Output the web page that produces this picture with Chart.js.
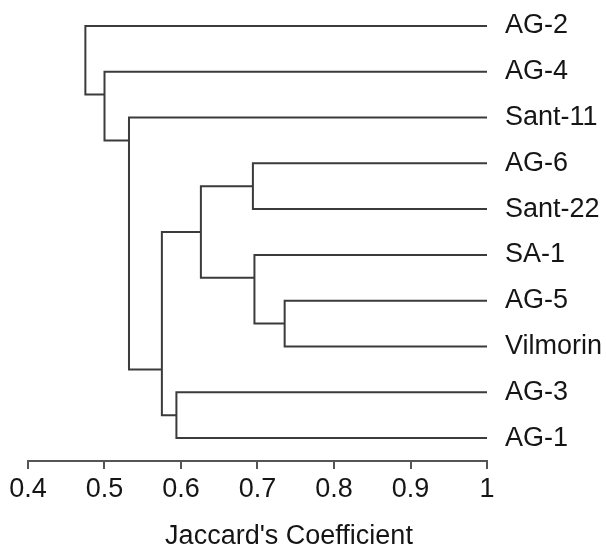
<!DOCTYPE html>
<html>
<head>
<meta charset="utf-8">
<script src="https://cdn.jsdelivr.net/npm/chart.js@4"></script>
<style>
  html, body { margin: 0; padding: 0; background: #fff; }
</style>
</head>
<body>
<canvas id="dendro" width="606" height="554"></canvas>
<script>
// Leaves, top to bottom
var leaves = ['AG-2', 'AG-4', 'Sant-11', 'AG-6', 'Sant-22', 'SA-1', 'AG-5', 'Vilmorin', 'AG-3', 'AG-1'];

// Merges (hclust style): negative = leaf number, positive = earlier merge
var mergeLeft   = [-4, -7, -6, -9, 1, 5, -3, -2, -1];
var mergeRight  = [-5, -8,  2, -10, 3, 4, 6, 7, 8];
var mergeHeight = [0.694, 0.7355, 0.696, 0.594, 0.626, 0.575, 0.532, 0.5, 0.475];
// Row where each merge is drawn (in leaf units, as in the picture)
var mergeRow    = [3.5, 6.5, 5.5, 8.5, 4.5, 7.5, 2.5, 1.5, 0.5];

var xTicks = [0.4, 0.5, 0.6, 0.7, 0.8, 0.9, 1];
var xTickLabels = ['0.4', '0.5', '0.6', '0.7', '0.8', '0.9', '1'];
var leafHeight = 1;

var lineColor = '#3b3b3b';
var textColor = '#151515';
var fontFamily = '"Liberation Sans", Arial, sans-serif';

// position (x, y) of a child
function childPos(id) {
    if (id < 0) return { x: leafHeight, y: -id - 1 };
    return { x: mergeHeight[id - 1], y: mergeRow[id - 1] };
}

// one U shape per merge
var datasets = mergeHeight.map(function (h, i) {
    var a = childPos(mergeLeft[i]);
    var b = childPos(mergeRight[i]);
    return {
        data: [{ x: a.x, y: a.y }, { x: h, y: a.y }, { x: h, y: b.y }, { x: b.x, y: b.y }],
        showLine: true,
        borderColor: lineColor,
        borderWidth: 2,
        pointRadius: 0,
        fill: false,
        tension: 0
    };
});

// axis title under the ticks
var axisTitle = {
    id: 'axisTitle',
    afterDraw: function (chart) {
        var ctx = chart.ctx;
        ctx.save();
        ctx.font = '27px ' + fontFamily;
        ctx.fillStyle = textColor;
        ctx.textAlign = 'center';
        ctx.textBaseline = 'middle';
        ctx.fillText("Jaccard's Coefficient", 289, 537);
        ctx.restore();
    }
};

var chart = new Chart(document.getElementById('dendro'), {
    type: 'scatter',
    data: { datasets: datasets },
    plugins: [axisTitle],
    options: {
        responsive: false,
        animation: false,
        layout: { padding: { left: 28, top: 3, right: 0, bottom: 0 } },
        plugins: { legend: { display: false }, tooltip: { enabled: false } },
        scales: {
            x: {
                type: 'linear',
                min: 0.4,
                max: 1,
                afterBuildTicks: function (s) { s.ticks = xTicks.map(function (v) { return { value: v }; }); },
                afterFit: function (s) { s.height = 93; s.paddingLeft = 0; s.paddingRight = 0; },
                ticks: {
                    font: { size: 27, family: fontFamily },
                    color: textColor,
                    padding: 4,
                    maxRotation: 0,
                    callback: function (v, i) { return xTickLabels[i]; }
                },
                grid: { drawOnChartArea: false, drawTicks: true, tickLength: 8, color: '#555', lineWidth: 2 },
                border: { display: true, color: '#555', width: 2 }
            },
            y: {
                type: 'linear',
                position: 'right',
                reverse: true,
                min: -0.5,
                max: 9.5,
                afterBuildTicks: function (s) { s.ticks = leaves.map(function (l, i) { return { value: i }; }); },
                afterFit: function (s) { s.width = 119; s.paddingTop = 0; s.paddingBottom = 0; },
                ticks: {
                    font: { size: 27, family: fontFamily },
                    color: textColor,
                    padding: 18,
                    callback: function (v) { return leaves[v]; }
                },
                grid: { display: false, drawTicks: false },
                border: { display: false }
            }
        }
    }
});
</script>
</body>
</html>
